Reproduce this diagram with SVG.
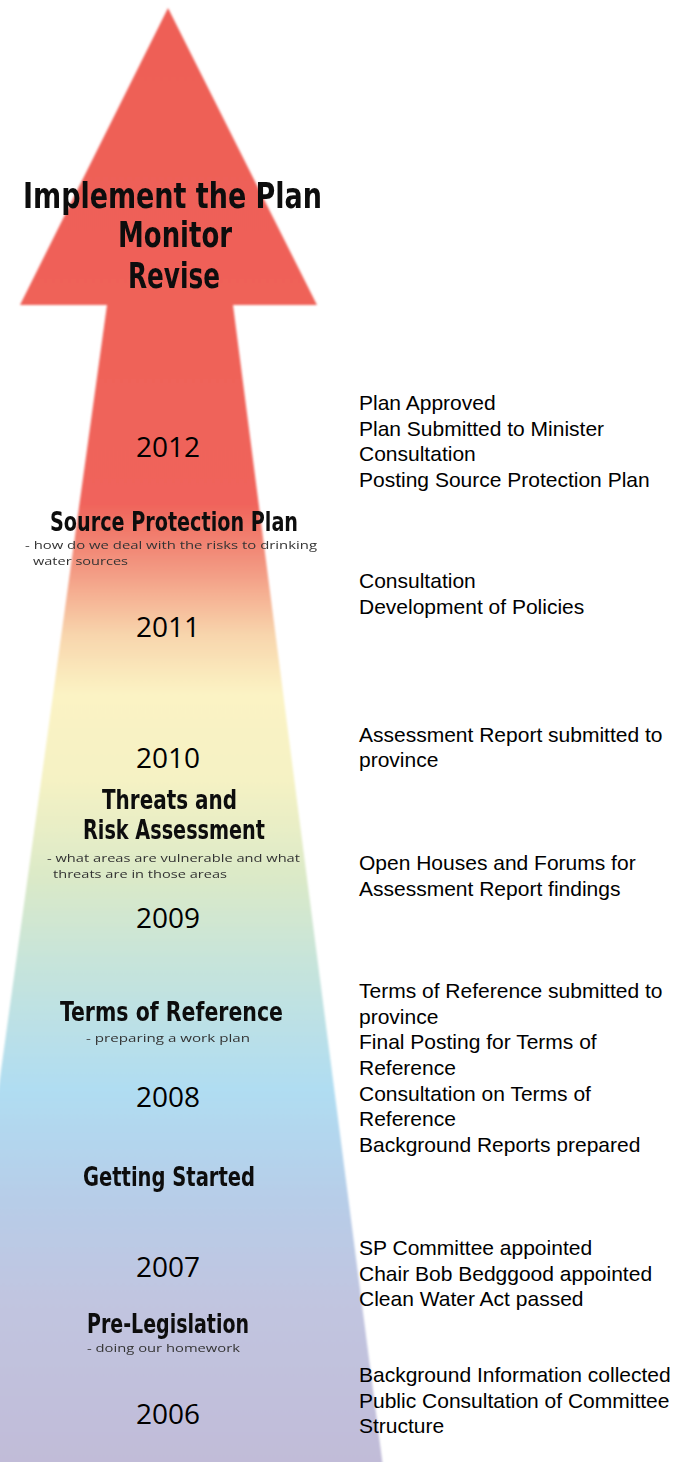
<svg xmlns="http://www.w3.org/2000/svg" width="691" height="1462" viewBox="0 0 691 1462">
<style>
.yr{font-family:"Open Sans","Noto Sans",sans-serif;font-size:28px;fill:#000;text-anchor:middle}
.hd{font-family:"DejaVu Sans Condensed","DejaVu Sans",sans-serif;font-weight:bold;fill:#111}
.sub{font-family:"Open Sans","Noto Sans",sans-serif;font-size:11.5px;fill:#333}
.rt{font-family:"Liberation Sans",Arial,sans-serif;font-size:21px;fill:#000}
</style>
<defs>
<linearGradient id="g" gradientUnits="userSpaceOnUse" x1="0" y1="0" x2="0" y2="1462">
<stop offset="0" stop-color="#EE5F56"/>
<stop offset="0.345" stop-color="#F0645B"/>
<stop offset="0.39" stop-color="#F39A83"/>
<stop offset="0.435" stop-color="#F8D6AD"/>
<stop offset="0.475" stop-color="#FBF3C4"/>
<stop offset="0.534" stop-color="#F5F2C4"/>
<stop offset="0.602" stop-color="#DAE9C8"/>
<stop offset="0.657" stop-color="#C7E4DA"/>
<stop offset="0.745" stop-color="#B0DDF2"/>
<stop offset="0.821" stop-color="#B7CDE8"/>
<stop offset="0.89" stop-color="#C1C5E0"/>
<stop offset="1" stop-color="#C1BCD8"/>
</linearGradient>
<filter id="soft" x="-5%" y="-5%" width="110%" height="110%"><feGaussianBlur stdDeviation="1.2"/></filter>
<filter id="tb"><feGaussianBlur stdDeviation="0.35"/></filter>
</defs>
<rect width="691" height="1462" fill="#fff"/>
<g id="arrow">
<polygon points="168,8 317,305 233,305 384,1475 -55,1475 107,305 20,305" fill="url(#g)" filter="url(#soft)"/>
</g>
<g id="top-label" filter="url(#tb)">
<text class="hd" x="23" y="208" font-size="36" textLength="299" lengthAdjust="spacingAndGlyphs">Implement the Plan</text>
<text class="hd" x="118" y="247" font-size="36" textLength="114" lengthAdjust="spacingAndGlyphs">Monitor</text>
<text class="hd" x="128" y="288" font-size="36" textLength="92" lengthAdjust="spacingAndGlyphs">Revise</text>
</g>
<g id="years">
<text class="yr" x="168" y="457">2012</text>
<text class="yr" x="168" y="637">2011</text>
<text class="yr" x="168" y="768">2010</text>
<text class="yr" x="168" y="928">2009</text>
<text class="yr" x="168" y="1107">2008</text>
<text class="yr" x="168" y="1277">2007</text>
<text class="yr" x="168" y="1424">2006</text>
</g>
<g id="source-protection-plan" filter="url(#tb)">
<text class="hd" x="50" y="531" font-size="27" textLength="248" lengthAdjust="spacingAndGlyphs">Source Protection Plan</text>
<text class="sub" x="25" y="549" textLength="292" lengthAdjust="spacingAndGlyphs">- how do we deal with the risks to drinking</text>
<text class="sub" x="33" y="565" textLength="95" lengthAdjust="spacingAndGlyphs">water sources</text>
</g>
<g id="threats-risk" filter="url(#tb)">
<text class="hd" x="102" y="809" font-size="27" textLength="135" lengthAdjust="spacingAndGlyphs">Threats and</text>
<text class="hd" x="83" y="839" font-size="27" textLength="182" lengthAdjust="spacingAndGlyphs">Risk Assessment</text>
<text class="sub" x="47" y="861.5" textLength="253" lengthAdjust="spacingAndGlyphs">- what areas are vulnerable and what</text>
<text class="sub" x="53" y="877.5" textLength="174" lengthAdjust="spacingAndGlyphs">threats are in those areas</text>
</g>
<g id="terms-of-reference" filter="url(#tb)">
<text class="hd" x="60" y="1021" font-size="27" textLength="223" lengthAdjust="spacingAndGlyphs">Terms of Reference</text>
<text class="sub" x="86" y="1042" textLength="164" lengthAdjust="spacingAndGlyphs">- preparing a work plan</text>
</g>
<g id="getting-started" filter="url(#tb)">
<text class="hd" x="83" y="1186" font-size="27" textLength="172" lengthAdjust="spacingAndGlyphs">Getting Started</text>
</g>
<g id="pre-legislation" filter="url(#tb)">
<text class="hd" x="87" y="1333" font-size="27" textLength="162" lengthAdjust="spacingAndGlyphs">Pre-Legislation</text>
<text class="sub" x="87" y="1352" textLength="153" lengthAdjust="spacingAndGlyphs">- doing our homework</text>
</g>
<g id="events-2012">
<text class="rt" x="359" y="410">Plan Approved</text>
<text class="rt" x="359" y="435.5">Plan Submitted to Minister</text>
<text class="rt" x="359" y="461">Consultation</text>
<text class="rt" x="359" y="486.5">Posting Source Protection Plan</text>
</g>
<g id="events-2011">
<text class="rt" x="359" y="588">Consultation</text>
<text class="rt" x="359" y="613.5">Development of Policies</text>
</g>
<g id="events-2010">
<text class="rt" x="359" y="741.5">Assessment Report submitted to</text>
<text class="rt" x="359" y="767">province</text>
</g>
<g id="events-2009">
<text class="rt" x="359" y="870">Open Houses and Forums for</text>
<text class="rt" x="359" y="895.5">Assessment Report findings</text>
</g>
<g id="events-2008">
<text class="rt" x="359" y="998">Terms of Reference submitted to</text>
<text class="rt" x="359" y="1023.5">province</text>
<text class="rt" x="359" y="1049">Final Posting for Terms of</text>
<text class="rt" x="359" y="1075">Reference</text>
<text class="rt" x="359" y="1100.5">Consultation on Terms of</text>
<text class="rt" x="359" y="1126">Reference</text>
<text class="rt" x="359" y="1152">Background Reports prepared</text>
</g>
<g id="events-2007">
<text class="rt" x="359" y="1255">SP Committee appointed</text>
<text class="rt" x="359" y="1280.5">Chair Bob Bedggood appointed</text>
<text class="rt" x="359" y="1306">Clean Water Act passed</text>
</g>
<g id="events-2006">
<text class="rt" x="359" y="1382">Background Information collected</text>
<text class="rt" x="359" y="1407.5">Public Consultation of Committee</text>
<text class="rt" x="359" y="1433">Structure</text>
</g>
</svg>
